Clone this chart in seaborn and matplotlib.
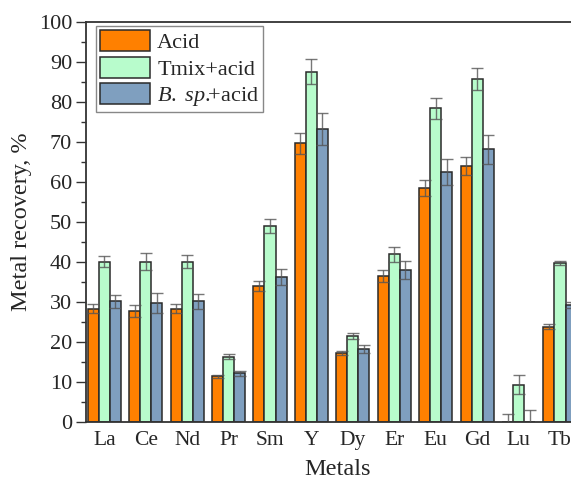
import pandas as pd
import seaborn as sns
import matplotlib.pyplot as plt
from matplotlib.ticker import MultipleLocator


metals = ["La", "Ce", "Nd", "Pr", "Sm", "Y", "Dy", "Er", "Eu", "Gd", "Lu", "Tb"]
groups = ["Acid", "Tmix+acid", r"$\mathit{B.\ sp.}\!\!$+acid"]

acid = [28.4, 27.8, 28.4, 11.5, 34.0, 69.7, 17.2, 36.5, 58.6, 64.0, 0.0, 23.9]
acid_err = [1.1, 1.4, 1.1, 0.4, 1.2, 2.6, 0.5, 1.5, 2.0, 2.3, 2.1, 0.7]

tmix = [40.1, 40.1, 40.1, 16.4, 49.0, 87.6, 21.5, 42.0, 78.4, 85.7, 9.4, 39.8]
tmix_err = [1.4, 2.1, 1.6, 0.6, 1.7, 3.1, 0.8, 1.9, 2.7, 2.8, 2.3, 0.5]

bsp = [30.2, 29.8, 30.2, 12.2, 36.2, 73.2, 18.2, 38.0, 62.6, 68.2, 0.0, 29.3]
bsp_err = [1.7, 2.4, 1.8, 0.7, 2.0, 4.0, 1.0, 2.3, 3.3, 3.6, 3.0, 0.8]

colors = ["#ff8000", "#b8fccc", "#7f9fbf"]

df = pd.DataFrame({
    "metal": metals * 3,
    "group": [g for g in groups for _ in metals],
    "value": acid + tmix + bsp,
})

sns.set_style("white")
plt.rcParams["font.family"] = ["Liberation Serif", "DejaVu Serif"]
plt.rcParams["mathtext.fontset"] = "custom"
plt.rcParams["mathtext.it"] = "Liberation Serif:italic"
plt.rcParams["mathtext.rm"] = "Liberation Serif"

fig = plt.figure(figsize=(5.71, 4.94), dpi=100)
ax = fig.add_axes([86 / 571, 71.7 / 494, 503 / 571, 400.3 / 494])

sns.barplot(data=df, x="metal", y="value", hue="group", order=metals,
            hue_order=groups, palette=colors, saturation=1, errorbar=None,
            width=0.8, edgecolor="#2a2a2a", linewidth=1.1, legend=False, ax=ax)

# error bars on top of the bars seaborn drew
for cont, errs in zip(ax.containers, [acid_err, tmix_err, bsp_err]):
    xs = [b.get_x() + b.get_width() / 2 for b in cont]
    ys = [b.get_height() for b in cont]
    ax.errorbar(xs, ys, yerr=errs, fmt="none", ecolor="#555555", alpha=0.8,
                elinewidth=1, capsize=4.5, capthick=1, zorder=5)

ax.set_xlim(-0.442, 11.7)
ax.set_ylim(0, 100)
ax.yaxis.set_major_locator(MultipleLocator(10))
ax.yaxis.set_minor_locator(MultipleLocator(5))
ax.tick_params(axis="y", which="major", direction="out", length=7, width=1,
               labelsize=16, pad=3, left=True, color="#333333")
ax.tick_params(axis="y", which="minor", direction="out", length=3.6, width=1,
               left=True, color="#333333")
ax.tick_params(axis="x", length=0, labelsize=15.5, pad=6)

for side in ["left", "top", "bottom"]:
    ax.spines[side].set_color("#333333")
    ax.spines[side].set_linewidth(1.3)
ax.spines["right"].set_visible(False)

ax.set_xlabel("Metals", fontsize=17.5, labelpad=7)
ax.set_ylabel("Metal recovery, %", fontsize=17.5, labelpad=5)

ax.legend(ax.containers, groups, loc="upper left",
          bbox_to_anchor=(96 / 571, 1 - 26 / 494), bbox_transform=fig.transFigure,
          borderaxespad=0, fontsize=16, handlelength=2.23, handleheight=1.1,
          handletextpad=0.34, labelspacing=0.15, borderpad=0.18,
          fancybox=False, framealpha=1, edgecolor="#888888")

fig.savefig("out.png", dpi=100)
